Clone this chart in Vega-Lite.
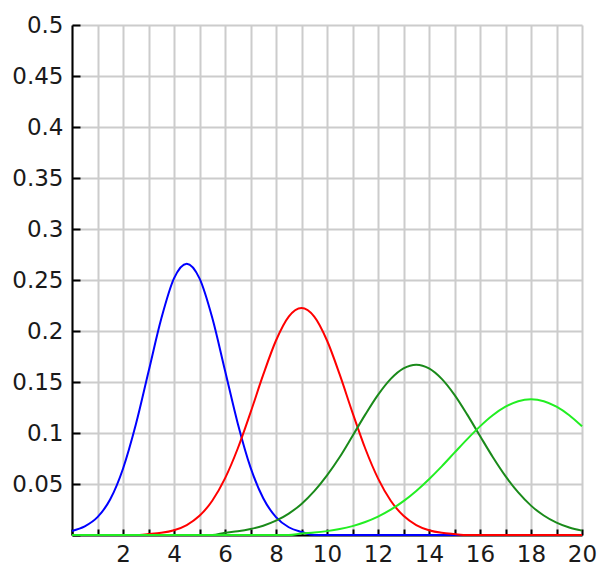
{
  "$schema": "https://vega.github.io/schema/vega-lite/v6.json",
  "width": 510,
  "height": 510,
  "autosize": {"type": "none"},
  "padding": {"left": 72, "top": 25, "right": 15, "bottom": 32},
  "background": "white",
  "config": {"view": {"stroke": null}, "font": "DejaVu Sans"},
  "data": {"values": [
    {"x": 0, "b": 0.004, "r": 0, "dg": 0, "lg": 0},
    {"x": 0.5, "b": 0.0085, "r": 0, "dg": 0, "lg": 0},
    {"x": 1, "b": 0.0175, "r": 0, "dg": 0, "lg": 0},
    {"x": 1.5, "b": 0.035, "r": 0, "dg": 0, "lg": 0},
    {"x": 2, "b": 0.065, "r": 0, "dg": 0, "lg": 0},
    {"x": 2.5, "b": 0.108, "r": 0, "dg": 0, "lg": 0},
    {"x": 3, "b": 0.16, "r": 0.0009, "dg": 0, "lg": 0},
    {"x": 3.5, "b": 0.212, "r": 0.0021, "dg": 0, "lg": 0},
    {"x": 4, "b": 0.2516, "r": 0.0047, "dg": 0, "lg": 0},
    {"x": 4.5, "b": 0.266, "r": 0.0098, "dg": 0, "lg": 0},
    {"x": 5, "b": 0.2516, "r": 0.0188, "dg": 0, "lg": 0},
    {"x": 5.5, "b": 0.213, "r": 0.0336, "dg": 0, "lg": 0},
    {"x": 6, "b": 0.1613, "r": 0.0555, "dg": 0.0022, "lg": 0},
    {"x": 6.5, "b": 0.1094, "r": 0.0848, "dg": 0.0036, "lg": 0},
    {"x": 7, "b": 0.0663, "r": 0.12, "dg": 0.0058, "lg": 0},
    {"x": 7.5, "b": 0.036, "r": 0.1572, "dg": 0.0091, "lg": 0},
    {"x": 8, "b": 0.0175, "r": 0.1907, "dg": 0.014, "lg": 0},
    {"x": 8.5, "b": 0.0076, "r": 0.2141, "dg": 0.021, "lg": 0},
    {"x": 9, "b": 0.003, "r": 0.2225, "dg": 0.0305, "lg": 0.0015},
    {"x": 9.5, "b": 0, "r": 0.2141, "dg": 0.043, "lg": 0.0024},
    {"x": 10, "b": 0, "r": 0.1907, "dg": 0.0585, "lg": 0.0038},
    {"x": 10.5, "b": 0, "r": 0.1572, "dg": 0.0765, "lg": 0.0058},
    {"x": 11, "b": 0, "r": 0.12, "dg": 0.0971, "lg": 0.0087},
    {"x": 11.5, "b": 0, "r": 0.0848, "dg": 0.118, "lg": 0.0127},
    {"x": 12, "b": 0, "r": 0.0555, "dg": 0.1374, "lg": 0.018},
    {"x": 12.5, "b": 0, "r": 0.0336, "dg": 0.1531, "lg": 0.0248},
    {"x": 13, "b": 0, "r": 0.0188, "dg": 0.1634, "lg": 0.0332},
    {"x": 13.5, "b": 0, "r": 0.0098, "dg": 0.167, "lg": 0.0432},
    {"x": 14, "b": 0, "r": 0.0047, "dg": 0.1634, "lg": 0.0547},
    {"x": 14.5, "b": 0, "r": 0.0021, "dg": 0.1531, "lg": 0.0673},
    {"x": 15, "b": 0, "r": 0.0009, "dg": 0.1374, "lg": 0.0807},
    {"x": 15.5, "b": 0, "r": 0, "dg": 0.118, "lg": 0.094},
    {"x": 16, "b": 0, "r": 0, "dg": 0.0971, "lg": 0.1065},
    {"x": 16.5, "b": 0, "r": 0, "dg": 0.0765, "lg": 0.1174},
    {"x": 17, "b": 0, "r": 0, "dg": 0.0577, "lg": 0.1258},
    {"x": 17.5, "b": 0, "r": 0, "dg": 0.0417, "lg": 0.1312},
    {"x": 18, "b": 0, "r": 0, "dg": 0.0288, "lg": 0.133},
    {"x": 18.5, "b": 0, "r": 0, "dg": 0.0191, "lg": 0.1312},
    {"x": 19, "b": 0, "r": 0, "dg": 0.0121, "lg": 0.1258},
    {"x": 19.5, "b": 0, "r": 0, "dg": 0.0073, "lg": 0.1174},
    {"x": 20, "b": 0, "r": 0, "dg": 0.0043, "lg": 0.1065}
  ]},
  "encoding": {
    "x": {
      "field": "x",
      "type": "quantitative",
      "scale": {"domain": [0, 20], "nice": false, "zero": false},
      "axis": {
        "title": null,
        "values": [0, 1, 2, 3, 4, 5, 6, 7, 8, 9, 10, 11, 12, 13, 14, 15, 16, 17, 18, 19, 20],
        "labelExpr": "datum.value > 0 && datum.value % 2 == 0 ? datum.label : ''",
        "grid": true,
        "gridColor": "#cccccc",
        "gridWidth": 2,
        "domainColor": "#000000",
        "domainWidth": 2,
        "tickColor": "#000000",
        "tickWidth": 2,
        "tickSize": -6,
        "labelPadding": 14,
        "labelFontSize": 23,
        "labelColor": "#1a1a1a",
        "labelFlush": false,
        "labelOverlap": false
      }
    }
  },
  "layer": [
    {
      "mark": {"type": "line", "color": "#0000ff", "strokeWidth": 2, "interpolate": "monotone"},
      "encoding": {
        "y": {
          "field": "b",
          "type": "quantitative",
          "scale": {"domain": [0, 0.5], "nice": false},
          "axis": {
            "title": null,
            "values": [0, 0.05, 0.1, 0.15, 0.2, 0.25, 0.3, 0.35, 0.4, 0.45, 0.5],
            "format": ".2~f",
            "labelExpr": "datum.value == 0 ? '' : datum.label",
            "grid": true,
            "gridColor": "#cccccc",
            "gridWidth": 2,
            "domainColor": "#000000",
            "domainWidth": 2,
            "tickColor": "#000000",
            "tickWidth": 2,
            "tickSize": -8,
            "labelPadding": 17,
            "labelFontSize": 23,
            "labelColor": "#1a1a1a",
            "labelFlush": false,
            "labelOverlap": false
          }
        }
      }
    },
    {
      "mark": {"type": "line", "color": "#ff0000", "strokeWidth": 2, "interpolate": "monotone"},
      "encoding": {"y": {"field": "r", "type": "quantitative"}}
    },
    {
      "mark": {"type": "line", "color": "#1a8a1a", "strokeWidth": 2, "interpolate": "monotone"},
      "encoding": {"y": {"field": "dg", "type": "quantitative"}}
    },
    {
      "mark": {"type": "line", "color": "#22ee22", "strokeWidth": 2, "interpolate": "monotone"},
      "encoding": {"y": {"field": "lg", "type": "quantitative"}}
    }
  ]
}
